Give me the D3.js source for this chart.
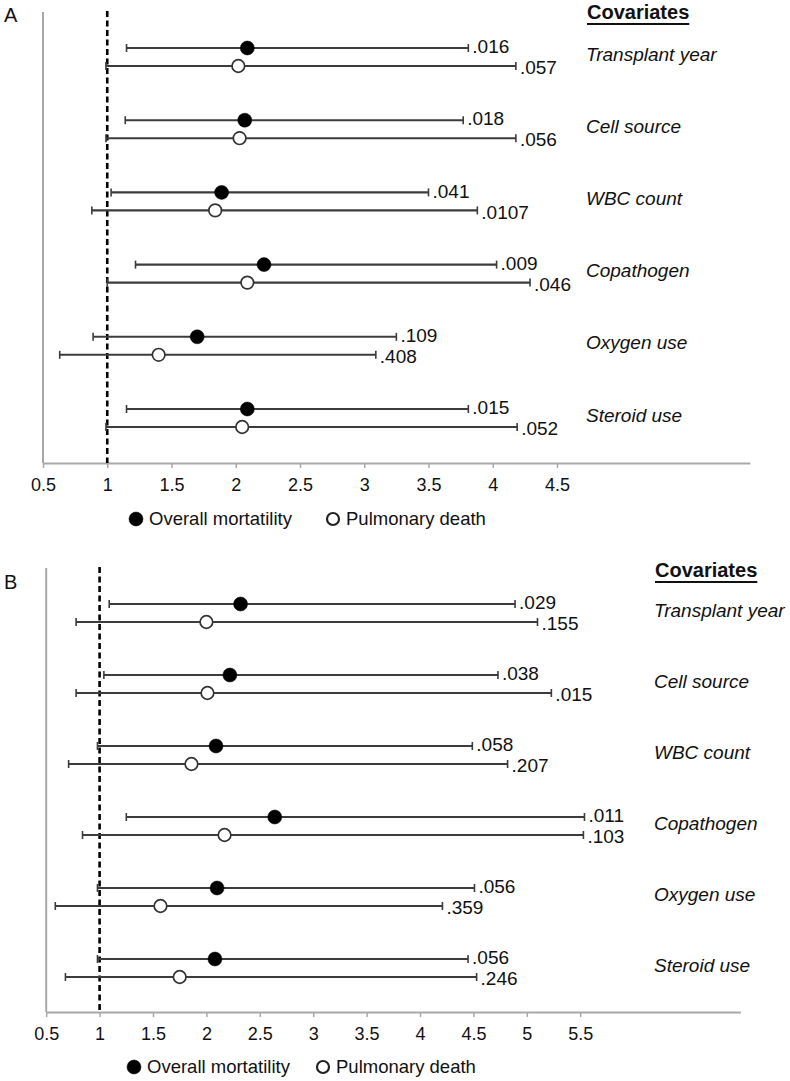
<!DOCTYPE html>
<html>
<head>
<meta charset="utf-8">
<script src="https://cdn.jsdelivr.net/npm/d3@7"></script>
<style>
  body { margin: 0; background: #fff; }
  svg { display: block; font-family: "Liberation Sans", Arial, sans-serif; }
</style>
</head>
<body>
<svg id="chart" width="790" height="1081"></svg>
<script>
// ---- data ----
const covariates = ["Transplant year", "Cell source", "WBC count", "Copathogen", "Oxygen use", "Steroid use"];
const seriesNames = ["Overall mortatility", "Pulmonary death"];

// Panel A
const aOverallHR = [2.09, 2.07, 1.89, 2.22, 1.70, 2.09];
const aOverallLo = [1.15, 1.14, 1.03, 1.22, 0.89, 1.15];
const aOverallHi = [3.81, 3.77, 3.50, 4.03, 3.25, 3.81];
const aOverallP  = [".016", ".018", ".041", ".009", ".109", ".015"];
const aPulmHR = [2.02, 2.03, 1.84, 2.09, 1.40, 2.05];
const aPulmLo = [0.99, 0.99, 0.88, 1.00, 0.63, 0.99];
const aPulmHi = [4.18, 4.18, 3.88, 4.29, 3.09, 4.19];
const aPulmP  = [".057", ".056", ".0107", ".046", ".408", ".052"];
const ticksA = [0.5, 1, 1.5, 2, 2.5, 3, 3.5, 4, 4.5];

// Panel B
const bOverallHR = [2.32, 2.22, 2.09, 2.64, 2.10, 2.08];
const bOverallLo = [1.09, 1.04, 0.98, 1.25, 0.98, 0.98];
const bOverallHi = [4.89, 4.73, 4.49, 5.54, 4.51, 4.45];
const bOverallP  = [".029", ".038", ".058", ".011", ".056", ".056"];
const bPulmHR = [2.00, 2.01, 1.86, 2.17, 1.57, 1.75];
const bPulmLo = [0.78, 0.78, 0.71, 0.84, 0.585, 0.68];
const bPulmHi = [5.10, 5.23, 4.82, 5.53, 4.21, 4.53];
const bPulmP  = [".155", ".015", ".207", ".103", ".359", ".246"];
const ticksB = [0.5, 1, 1.5, 2, 2.5, 3, 3.5, 4, 4.5, 5, 5.5];

const svg = d3.select("#chart");
svg.append("rect").attr("width", 790).attr("height", 1081).attr("fill", "#fff");

function panel(cfg) {
  const g = svg.append("g");
  const x = d3.scaleLinear().domain(cfg.domain).range(cfg.xRange);
  const y = d3.scalePoint().domain(covariates).range(cfg.rowRange);
  const off = 18;

  // panel letter
  g.append("text").attr("x", 4).attr("y", cfg.letterY).attr("font-size", 20)
    .attr("fill", "#111").text(cfg.letter);

  // left gray axis
  g.append("line").attr("x1", x(cfg.domain[0])).attr("x2", x(cfg.domain[0]))
    .attr("y1", cfg.top).attr("y2", cfg.axisY)
    .attr("stroke", "#a8a8a8").attr("stroke-width", 2);

  // bottom axis
  const axis = d3.axisBottom(x).tickValues(cfg.ticks).tickSize(5).tickSizeOuter(0)
    .tickPadding(10).tickFormat(d => String(d));
  const ag = g.append("g").attr("transform", `translate(0,${cfg.axisY})`).call(axis);
  ag.select(".domain").attr("stroke", "#a8a8a8").attr("stroke-width", 2);
  ag.selectAll(".tick line").attr("stroke", "#a8a8a8").attr("stroke-width", 1.5);
  ag.selectAll(".tick text").attr("font-size", 18).attr("fill", "#111")
    .attr("font-family", "Liberation Sans, Arial, sans-serif");

  // reference line at 1
  g.append("line").attr("x1", x(1)).attr("x2", x(1))
    .attr("y1", cfg.top - 1).attr("y2", cfg.axisY)
    .attr("stroke", "#000").attr("stroke-width", 2.6).attr("stroke-dasharray", "6,3.5");

  const series = [
    { hr: cfg.oHR, lo: cfg.oLo, hi: cfg.oHi, p: cfg.oP, dy: 0, filled: true, labDy: -1.5 },
    { hr: cfg.pHR, lo: cfg.pLo, hi: cfg.pHi, p: cfg.pP, dy: off, filled: false, labDy: 1.5 }
  ];

  series.forEach(s => {
    const rows = covariates.map((c, i) => ({ c, hr: s.hr[i], lo: s.lo[i], hi: s.hi[i], p: s.p[i] }));
    const sg = g.append("g");
    sg.selectAll("line.ci").data(rows).join("line").attr("class", "ci")
      .attr("x1", d => x(d.lo)).attr("x2", d => x(d.hi))
      .attr("y1", d => y(d.c) + s.dy).attr("y2", d => y(d.c) + s.dy)
      .attr("stroke", "#3c3c3c").attr("stroke-width", 2.1);
    ["lo", "hi"].forEach(k => {
      sg.selectAll("line.cap" + k).data(rows).join("line").attr("class", "cap" + k)
        .attr("x1", d => x(d[k])).attr("x2", d => x(d[k]))
        .attr("y1", d => y(d.c) + s.dy - 4).attr("y2", d => y(d.c) + s.dy + 4)
        .attr("stroke", "#3c3c3c").attr("stroke-width", 1.6);
    });
    sg.selectAll("circle").data(rows).join("circle")
      .attr("cx", d => x(d.hr)).attr("cy", d => y(d.c) + s.dy)
      .attr("r", s.filled ? 7 : 6.3)
      .attr("fill", s.filled ? "#000" : "#fff")
      .attr("stroke", s.filled ? "#000" : "#333")
      .attr("stroke-width", s.filled ? 0.5 : 1.7);
    sg.selectAll("text").data(rows).join("text")
      .attr("x", d => x(d.hi) + 4).attr("y", d => y(d.c) + s.dy + s.labDy)
      .attr("dy", "0.35em").attr("font-size", 19).attr("fill", "#111")
      .text(d => d.p);
  });

  // covariate labels
  g.selectAll("text.cov").data(covariates).join("text").attr("class", "cov")
    .attr("x", cfg.covX).attr("y", d => y(d) + 6).attr("dy", "0.35em")
    .attr("font-size", 19).attr("font-style", "italic").attr("fill", "#111")
    .text(d => d);

  // header
  const h = g.append("text").attr("x", cfg.covX + 1).attr("y", cfg.headY)
    .attr("font-size", 20).attr("font-weight", "bold").attr("fill", "#111").text("Covariates");
  const w = h.node().getComputedTextLength();
  g.append("line").attr("x1", cfg.covX + 1).attr("x2", cfg.covX + 1 + w)
    .attr("y1", cfg.headY + 5).attr("y2", cfg.headY + 5)
    .attr("stroke", "#111").attr("stroke-width", 1.8);

  // legend
  const lg = g.append("g").attr("transform", `translate(0,${cfg.legY})`);
  seriesNames.forEach((name, i) => {
    const cx = cfg.legX[i];
    lg.append("circle").attr("cx", cx).attr("cy", 0).attr("r", i === 0 ? 7 : 6)
      .attr("fill", i === 0 ? "#000" : "#fff")
      .attr("stroke", i === 0 ? "#000" : "#222").attr("stroke-width", i === 0 ? 0.5 : 2.2);
    lg.append("text").attr("x", cx + 13).attr("y", 0).attr("dy", "0.35em")
      .attr("font-size", 18.5).attr("fill", "#111").text(name);
  });
}

panel({
  letter: "A", letterY: 22, top: 12, axisY: 463,
  domain: [0.5, 6], xRange: [43, 749.75], rowRange: [48, 409], ticks: ticksA,
  oHR: aOverallHR, oLo: aOverallLo, oHi: aOverallHi, oP: aOverallP,
  pHR: aPulmHR, pLo: aPulmLo, pHi: aPulmHi, pP: aPulmP,
  covX: 586, headY: 19, legY: 519, legX: [136, 333]
});

panel({
  letter: "B", letterY: 589, top: 568, axisY: 1012,
  domain: [0.5, 7], xRange: [46.2, 740.4], rowRange: [604, 959], ticks: ticksB,
  oHR: bOverallHR, oLo: bOverallLo, oHi: bOverallHi, oP: bOverallP,
  pHR: bPulmHR, pLo: bPulmLo, pHi: bPulmHi, pP: bPulmP,
  covX: 654, headY: 577, legY: 1067, legX: [134, 323]
});
</script>
</body>
</html>
